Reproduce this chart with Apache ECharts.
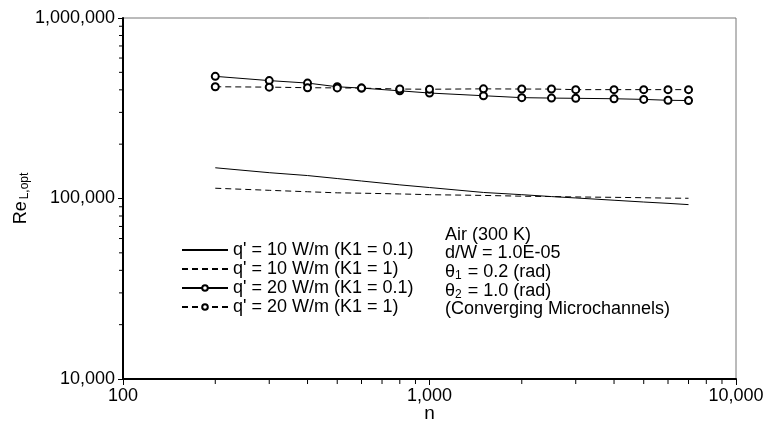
<!DOCTYPE html>
<html>
<head>
<meta charset="utf-8">
<script src="https://cdn.jsdelivr.net/npm/echarts@6/dist/echarts.min.js"></script>
<style>
  html, body { margin: 0; padding: 0; background: #fff; }
  #chart { width: 767px; height: 428px; }
</style>
</head>
<body>
<div id="chart"></div>
<script>
// number of channels
const nValues = [200, 300, 400, 500, 600, 800, 1000, 1500, 2000, 2500, 3000, 4000, 5000, 6000, 7000];
// Re_L,opt
const reQ10K01 = [148000, 139000, 134000, 129000, 125000, 119000, 115000, 108000, 105000, 102500, 100700, 97800, 95600, 94000, 92500];
const reQ10K1 = [114000, 111000, 109000, 107500, 107000, 106000, 105000, 104000, 103000, 102500, 102000, 101500, 101000, 100500, 100300];
const reQ20K01 = [475000, 450000, 436000, 416000, 409000, 395000, 384000, 371000, 362000, 360000, 359000, 357000, 354000, 350000, 349000];
const reQ20K1 = [416000, 414000, 411000, 410000, 409000, 404000, 403000, 405000, 404000, 404000, 401000, 401000, 401000, 401000, 401000];

const seriesNames = ["q' = 10 W/m (K1 = 0.1)", "q' = 10 W/m (K1 = 1)", "q' = 20 W/m (K1 = 0.1)", "q' = 20 W/m (K1 = 1)"];
const xTicks = [100, 1000, 10000];
const yTicks = [10000, 100000, 1000000];
const minorSteps = [2, 3, 4, 5, 6, 7, 8, 9];

const FONT = 'Liberation Sans, Arial, sans-serif';

function pairs(ys) {
    return nValues.map((n, i) => [n, ys[i]]);
}
function fmt(v) {
    return Number(v).toLocaleString('en-US');
}

const chart = echarts.init(document.getElementById('chart'));

function lineSeries(name, ys, dashed, marker) {
    return {
        name: name,
        type: 'line',
        data: pairs(ys),
        symbol: marker ? 'emptyCircle' : 'none',
        symbolSize: 7,
        showSymbol: marker,
        color: '#000',
        lineStyle: { color: '#000', width: 1, type: dashed ? [6, 4] : 'solid' },
        itemStyle: { color: '#000', borderWidth: 1 },
        animation: false
    };
}

let option = {
    animation: false,
    grid: {
        left: 123, right: 31, top: 18, bottom: 49,
        outerBoundsMode: 'none', containLabel: false,
        show: true, borderColor: '#777', borderWidth: 1
    },
    xAxis: {
        type: 'log', logBase: 10, min: 100, max: 10000,
        name: 'n', nameLocation: 'middle', nameGap: 25, nameMoveOverlap: false,
        nameTextStyle: { fontFamily: FONT, fontSize: 19, color: '#000' },
        axisLine: { onZero: false, lineStyle: { color: '#000', width: 2 } },
        axisTick: { length: 6, lineStyle: { color: '#000' } },
        axisLabel: { fontFamily: FONT, fontSize: 18, color: '#000', margin: 8, formatter: fmt },
        splitLine: { show: false }
    },
    yAxis: {
        type: 'log', logBase: 10, min: 10000, max: 1000000,
        name: '{a|Re}{b|L,opt}', nameLocation: 'middle', nameGap: 92, nameRotate: 90, nameMoveOverlap: false,
        nameTextStyle: {
            rich: {
                a: { fontFamily: FONT, fontSize: 18, color: '#000' },
                b: { fontFamily: FONT, fontSize: 12, color: '#000', padding: [7, 0, 0, 2] }
            }
        },
        axisLine: { onZero: false, lineStyle: { color: '#000', width: 2 } },
        axisTick: { length: 5, lineStyle: { color: '#000' } },
        axisLabel: { fontFamily: FONT, fontSize: 18, color: '#000', margin: 8, formatter: fmt },
        splitLine: { show: false }
    },
    legend: {
        orient: 'vertical', left: 181, top: 241, padding: 0,
        data: seriesNames.map((name, i) => ({
            name: name,
            itemStyle: i < 2 ? { opacity: 0 } : { borderWidth: 1 }
        })),
        itemWidth: 46, itemHeight: 7, itemGap: 1,
        textStyle: { fontFamily: FONT, fontSize: 18, color: '#000', lineHeight: 18 },
        inactiveColor: '#000'
    },
    series: [
        lineSeries(seriesNames[0], reQ10K01, false, false),
        lineSeries(seriesNames[1], reQ10K1, true, false),
        lineSeries(seriesNames[2], reQ20K01, false, true),
        lineSeries(seriesNames[3], reQ20K1, true, true)
    ]
};
chart.setOption(option);

// annotation block + minor log ticks (placed via the axes' own scale)
const notes = [
    '{t|Air (300 K)}',
    '{t|d/W = 1.0E-05}',
    '{t|\u03b8}{s|1}{t| = 0.2 (rad)}',
    '{t|\u03b8}{s|2}{t| = 1.0 (rad)}',
    '{t|(Converging Microchannels)}'
];
const noteRows = [236, 254, 273, 292, 310];
const graphics = notes.map((txt, i) => ({
    type: 'text', left: 445, top: noteRows[i] - 10,
    style: {
        text: txt,
        rich: {
            t: { fontFamily: FONT, fontSize: 18, fill: '#000' },
            s: { fontFamily: FONT, fontSize: 12, fill: '#000', padding: [8, 1, 0, 0] }
        }
    }
}));

for (let d = 100; d < 10000; d *= 10) {
    minorSteps.forEach(m => {
        const p = chart.convertToPixel({ gridIndex: 0 }, [d * m, 10000]);
        graphics.push({ type: 'line', shape: { x1: p[0], y1: p[1], x2: p[0], y2: p[1] + 5 }, style: { stroke: '#000', lineWidth: 1 } });
    });
}
for (let d = 10000; d < 1000000; d *= 10) {
    minorSteps.forEach(m => {
        const p = chart.convertToPixel({ gridIndex: 0 }, [100, d * m]);
        graphics.push({ type: 'line', shape: { x1: p[0] - 4, y1: p[1], x2: p[0], y2: p[1] }, style: { stroke: '#000', lineWidth: 1 } });
    });
}
chart.setOption({ graphic: graphics });
window.addEventListener('resize', chart.resize);
</script>
</body>
</html>
